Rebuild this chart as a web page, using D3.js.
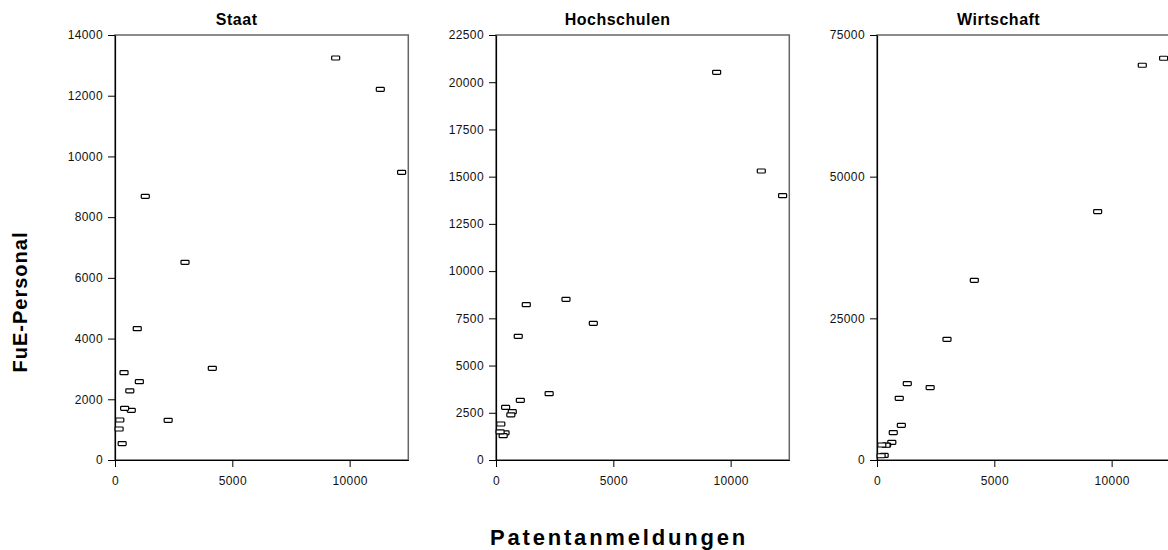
<!DOCTYPE html>
<html>
<head>
<meta charset="utf-8">
<script src="https://cdn.jsdelivr.net/npm/d3@7"></script>
<style>
  html, body { margin: 0; padding: 0; background: #fff; }
  svg { display: block; }
  text { font-family: Arial, "Liberation Sans", sans-serif; }
</style>
</head>
<body>
<svg id="chart" width="1168" height="550"></svg>
<script>
// ---- data (one entry per region, same order in every array) ----
const panelTitles = ["Staat", "Hochschulen", "Wirtschaft"];
const patents     = [12215, 11306, 9404, 4147, 2983, 2265, 1290, 1037, 948, 693, 632, 410, 385, 305, 205, 175];
const staat       = [9476, 12210, 13242, 3020, 6512, 1307, 8685, 2580, 4326, 1636, 2278, 1702, 2876, 540, 1318, 1021];
const hochschulen = [13993, 15300, 20524, 7235, 8506, 3511, 8222, 3159, 6547, 2557, 2390, 2790, 1440, 1287, 1906, 1490];
const wirtschaft  = [70895, 69660, 43828, 31710, 21298, 12765, 13470, 6118, 10885, 4823, 3118, 2650, 2600, 800, 2650, 750];
const xTicks      = [0, 5000, 10000];
const yTicksStaat = [0, 2000, 4000, 6000, 8000, 10000, 12000, 14000];
const yTicksHoch  = [0, 2500, 5000, 7500, 10000, 12500, 15000, 17500, 20000, 22500];
const yTicksWirt  = [0, 25000, 50000, 75000];
const xLabel = "Patentanmeldungen";
const yLabel = "FuE-Personal";

const panels = [
  { title: panelTitles[0], values: staat,       ticks: yTicksStaat, left: 115 },
  { title: panelTitles[1], values: hochschulen, ticks: yTicksHoch,  left: 496 },
  { title: panelTitles[2], values: wirtschaft,  ticks: yTicksWirt,  left: 877 }
];

const svg = d3.select("#chart");
const plotTop = 35, plotBottom = 460, plotW = 293.3;

panels.forEach(p => {
  const x = d3.scaleLinear().domain([0, 12500]).range([p.left, p.left + plotW]);
  const yMax = p.ticks[p.ticks.length - 1];
  const y = d3.scaleLinear().domain([0, yMax]).range([plotBottom, plotTop]);
  const g = svg.append("g");

  // frame (top & right)
  g.append("rect")
    .attr("x", x(0)).attr("y", y(yMax))
    .attr("width", x(12500) - x(0)).attr("height", y(0) - y(yMax))
    .attr("fill", "none").attr("stroke", "#666").attr("stroke-width", 1.5);

  const yAxis = g.append("g")
    .attr("transform", `translate(${x(0)},0)`)
    .call(d3.axisLeft(y).tickValues(p.ticks).tickFormat(d3.format("d")).tickSize(7).tickSizeOuter(0).tickPadding(5));
  const xAxis = g.append("g")
    .attr("transform", `translate(0,${y(0)})`)
    .call(d3.axisBottom(x).tickValues(xTicks).tickFormat(d3.format("d")).tickSize(7).tickSizeOuter(0).tickPadding(9));
  [yAxis, xAxis].forEach(a => {
    a.select(".domain").attr("stroke", "#000").attr("stroke-width", 1.2);
    a.selectAll(".tick line").attr("stroke", "#000");
    a.selectAll(".tick text")
      .attr("fill", "#111")
      .style("font-size", "12px")
      .style("letter-spacing", "0.4px")
      .style("font-family", "Arial, 'Liberation Sans', sans-serif");
  });

  g.append("text")
    .attr("x", x(0) + plotW / 2 - 25).attr("y", 25)
    .attr("text-anchor", "middle")
    .style("font-size", "16px").style("font-weight", "bold").style("letter-spacing", "0.5px")
    .text(p.title);

  g.selectAll("rect.pt")
    .data(p.values.map((v, i) => ({ px: patents[i], v })))
    .join("rect")
    .attr("class", "pt")
    .attr("x", d => x(d.px) - 4).attr("y", d => y(d.v) - 2)
    .attr("width", 8).attr("height", 4)
    .attr("rx", 0.8)
    .attr("fill", "#fff").attr("stroke", "#000").attr("stroke-width", 1.2);
});

svg.append("text")
  .attr("transform", "translate(27,302) rotate(-90)")
  .attr("text-anchor", "middle")
  .style("font-size", "20px").style("font-weight", "bold").style("letter-spacing", "1px")
  .text(yLabel);

svg.append("text")
  .attr("x", 619).attr("y", 545)
  .attr("text-anchor", "middle")
  .style("font-size", "22px").style("font-weight", "bold").style("letter-spacing", "2.8px")
  .text(xLabel);
</script>
</body>
</html>
